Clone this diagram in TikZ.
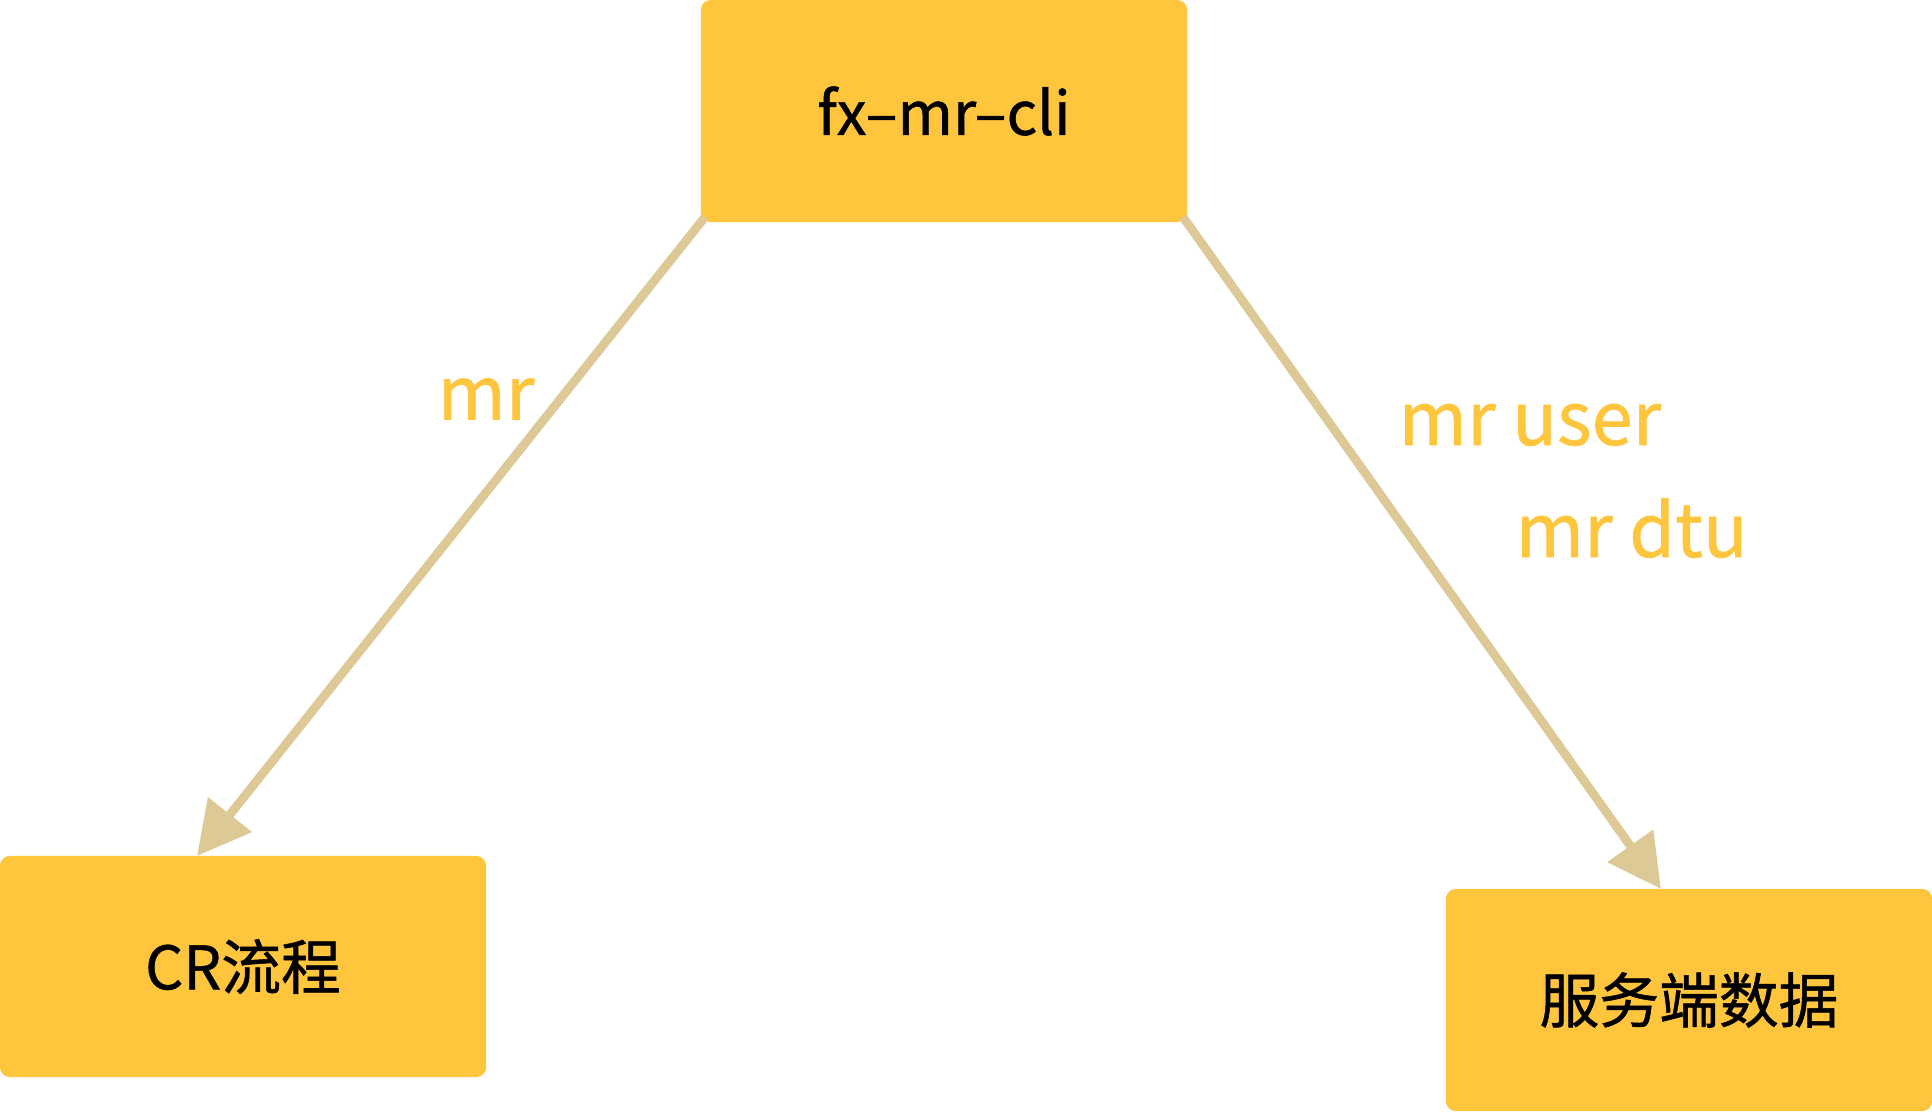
\documentclass[tikz,border=0pt]{standalone}
\usepackage{fontspec}
\setmainfont{Noto Sans CJK SC}[FakeBold=0.9]
\usetikzlibrary{arrows.meta}
\definecolor{boxfill}{HTML}{FFC53D}
\definecolor{arrowc}{HTML}{DDC995}
\definecolor{labelc}{HTML}{FFC53D}
\tikzset{
  box/.style={rectangle, rounded corners=0.1cm, fill=boxfill, draw=none, inner sep=0pt,
    font=\fontsize{17}{20}\selectfont, text=black},
  conn/.style={draw=arrowc, line width=2.5pt, -{Triangle[length=0.53cm, width=0.54cm]}},
  lbl/.style={font=\fontsize{21}{25}\selectfont, text=labelc, inner sep=0pt}
}
\begin{document}
\begin{tikzpicture}[x=0.01cm, y=-0.01cm]
\useasboundingbox (0,0) rectangle (1932,1111);
\node[box, minimum width=4.86cm, minimum height=2.22cm] (top) at (944,111) {fx–mr–cli};
\node[box, minimum width=4.86cm, minimum height=2.21cm] (cr) at (243,966.5) {CR流程};
\node[box, minimum width=4.86cm, minimum height=2.22cm] (srv) at (1689,1000) {服务端数据};
\coordinate (crtip) at (197,856);
\coordinate (srvtip) at (1661,889);
\coordinate (topl) at (705,217);
\coordinate (topr) at (1183,217);
\draw[conn] (topl) -- (crtip);
\draw[conn] (topr) -- (srvtip);
\node[lbl] (l1) at (486,399) {mr};
\node[lbl, anchor=base west] (l2) at (1398,445) {mr user};
\node[lbl, anchor=base west] (l3) at (1515,557) {mr dtu};
\end{tikzpicture}
\end{document}
